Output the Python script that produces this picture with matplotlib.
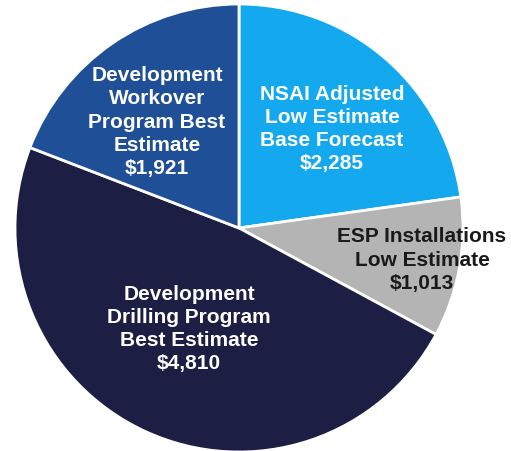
import matplotlib.pyplot as plt

# slices, clockwise from 12 o'clock
labels = ["NSAI Adjusted\nLow Estimate\nBase Forecast\n$2,285",
          "ESP Installations\nLow Estimate\n$1,013",
          "Development\nDrilling Program\nBest Estimate\n$4,810",
          "Development\nWorkover\nProgram Best\nEstimate\n$1,921"]
values = [2285, 1013, 4810, 1921]
colors = ["#14A9EE", "#B4B4B4", "#1C1E44", "#1F4F96"]
text_colors = ["white", "#1a1a1a", "white", "white"]
# label centres in pixels (x, y from top)
label_pos = [(332, 129), (422, 260), (189, 329), (157, 122)]

W, H = 511, 452
fig = plt.figure(figsize=(W / 100, H / 100), dpi=100)
ax = fig.add_axes([0, 0, 1, 1])

cx, cy, r = 239, 229, 224
ax.pie(values, colors=colors, startangle=90, counterclock=False,
       center=(cx, H - cy), radius=r,
       wedgeprops=dict(edgecolor="white", linewidth=2))

for lab, (x, y), tc in zip(labels, label_pos, text_colors):
    ax.text(x, H - y, lab, ha="center", va="center", color=tc,
            fontsize=15, fontweight="bold", family="Liberation Sans",
            linespacing=1.28, multialignment="center")

ax.set_xlim(0, W)
ax.set_ylim(0, H)
ax.set_aspect("equal")
ax.axis("off")

fig.savefig("out.png", dpi=100)
